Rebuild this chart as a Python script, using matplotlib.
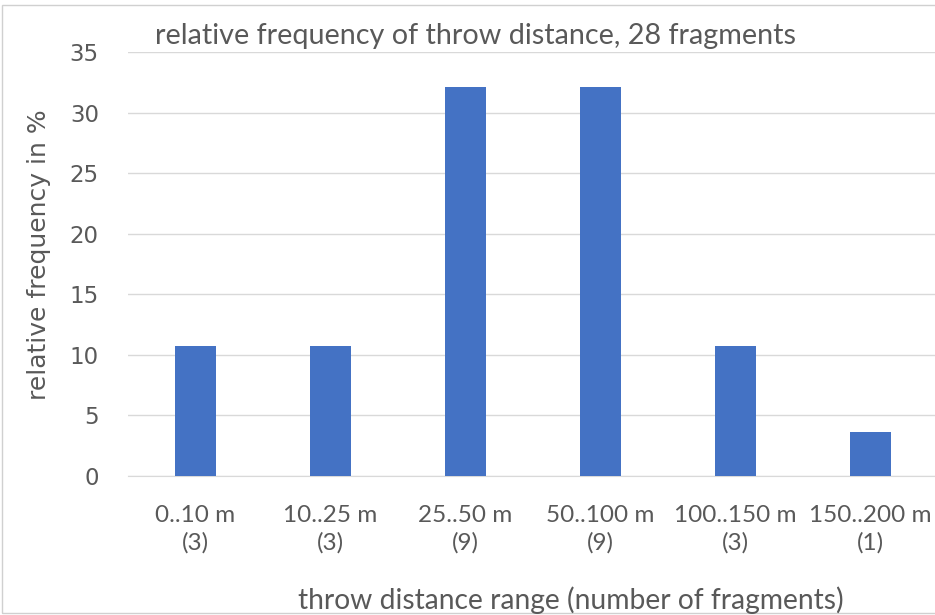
import matplotlib.pyplot as plt
from matplotlib.patches import Rectangle

# throw distance classes and their share of the 28 fragments
ranges = ['0..10 m', '10..25 m', '25..50 m', '50..100 m', '100..150 m', '150..200 m']
counts = [3, 3, 9, 9, 3, 1]
rel_freq = [10.7, 10.7, 32.1, 32.1, 10.7, 3.6]
y_ticks = [0, 5, 10, 15, 20, 25, 30, 35]

grey = '#595959'
narrow = ['Lato', 'DejaVu Sans']

fig = plt.figure(figsize=(9.35, 6.15), dpi=100)
W, H = 935, 615
ax = fig.add_axes([128 / W, 1 - 476 / H, 810 / W, (476 - 52) / H])

x = list(range(len(ranges)))
ax.bar(x, rel_freq, width=0.31, color='#4472C4', zorder=3)

ax.set_xlim(-0.5, len(ranges) - 0.5)
ax.set_ylim(0, 35)
ax.set_yticks(y_ticks)
ax.yaxis.grid(True, color='#d9d9d9', linewidth=1, zorder=0)
for s in ['top', 'right', 'left']:
    ax.spines[s].set_visible(False)
ax.spines['bottom'].set_color('#d9d9d9')
ax.tick_params(axis='both', length=0, colors=grey)
ax.tick_params(axis='y', labelsize=16.5, pad=21)

labels = [f'{r}\n({c})' for r, c in zip(ranges, counts)]
ax.set_xticks(x)
ax.set_xticklabels(labels, fontsize=17.5, family=narrow, linespacing=1.35)
ax.tick_params(axis='x', pad=21)

ax.set_ylabel('relative frequency in %', fontsize=18, color=grey)
ax.yaxis.set_label_coords(-77 / 810, 0.521)
fig.text(298 / W, 1 - 600 / H, 'throw distance range (number of fragments)',
         fontsize=20.3, family=narrow, color=grey, va='center', ha='left')
fig.text(155 / W, 1 - 36 / H, 'relative frequency of throw distance, 28 fragments',
         fontsize=20.7, family=narrow, color=grey, va='center', ha='left')

# light frame around the whole chart
fig.patches.append(Rectangle((2 / W, 2 / H), 1, 1 - 7 / H, transform=fig.transFigure,
                             fill=False, edgecolor='#d0d0d0', linewidth=1))

fig.savefig('out.png', dpi=100)
